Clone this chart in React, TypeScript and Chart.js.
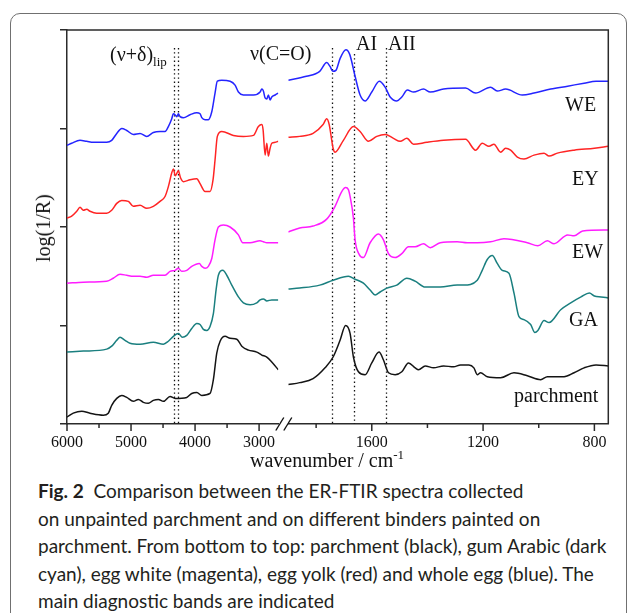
import React, { useEffect, useRef } from 'react';
import { Chart, registerables } from 'chart.js';

Chart.register(...registerables);

type Pt = [number, number];

// ---------- axes / ticks ----------
const LEFT_RANGE = [6000, 2700];
const RIGHT_RANGE = [1900, 750];
const LEFT_TICKS = [6000, 5500, 5000, 4500, 4000, 3500, 3000];
const LEFT_LABELLED = [6000, 5000, 4000, 3000];
const RIGHT_TICKS = [1800, 1600, 1400, 1200, 1000, 800];
const RIGHT_LABELLED = [1600, 1200, 800];
const Y_TICKS = [0, 1, 2, 3, 4];
const LIPID_BANDS = [4330, 4260];
const PROTEIN_BANDS = [1742, 1663, 1549];

// ---------- spectra: [wavenumber, log(1/R) offset] ----------
const weLeft: Pt[] = [[6000,2.83],[5927,2.85],[5797,2.88],[5692,2.87],[5589,2.86],[5380,2.86],[5302,2.88],[5223,2.95],[5145,3.00],[5067,2.98],[4964,2.94],[4859,2.95],[4755,2.92],[4652,2.96],[4547,2.97],[4469,2.97],[4417,3.02],[4364,3.10],[4339,3.15],[4312,3.14],[4286,3.12],[4261,3.15],[4234,3.12],[4183,3.11],[4078,3.14],[3973,3.16],[3922,3.15],[3895,3.11],[3844,3.09],[3792,3.09],[3739,3.17],[3688,3.36],[3652,3.48],[3583,3.49],[3453,3.48],[3375,3.44],[3323,3.37],[3245,3.34],[3089,3.34],[2984,3.37],[2958,3.40],[2933,3.38],[2906,3.31],[2880,3.30],[2855,3.34],[2828,3.29],[2802,3.32],[2750,3.34],[2700,3.36]];
const weRight: Pt[] = [[1900,3.49],[1835,3.53],[1787,3.58],[1762,3.67],[1750,3.63],[1740,3.58],[1729,3.59],[1714,3.71],[1693,3.80],[1679,3.75],[1660,3.53],[1642,3.34],[1624,3.28],[1600,3.37],[1573,3.48],[1552,3.42],[1534,3.32],[1510,3.28],[1492,3.32],[1472,3.39],[1450,3.37],[1414,3.40],[1390,3.37],[1342,3.40],[1263,3.41],[1227,3.36],[1173,3.42],[1149,3.38],[1119,3.40],[1059,3.34],[1017,3.36],[957,3.40],[896,3.43],[837,3.46],[794,3.48],[750,3.48]];

const eyLeft: Pt[] = [[6000,2.09],[5927,2.11],[5848,2.16],[5797,2.20],[5745,2.17],[5692,2.18],[5641,2.16],[5536,2.14],[5380,2.14],[5302,2.17],[5223,2.24],[5145,2.27],[5042,2.26],[4964,2.21],[4859,2.22],[4755,2.19],[4652,2.21],[4547,2.26],[4469,2.31],[4417,2.41],[4364,2.55],[4339,2.59],[4308,2.52],[4261,2.57],[4227,2.50],[4183,2.46],[4078,2.48],[3973,2.49],[3922,2.44],[3844,2.36],[3766,2.36],[3719,2.48],[3688,2.68],[3652,2.92],[3583,2.97],[3402,2.93],[3245,2.92],[3089,2.93],[3011,3.02],[2958,3.04],[2938,2.99],[2906,2.73],[2880,2.85],[2855,2.72],[2828,2.80],[2802,2.85],[2750,2.86],[2700,2.87]];
const eyRight: Pt[] = [[1900,2.91],[1859,2.92],[1811,2.95],[1775,3.04],[1762,3.10],[1753,3.04],[1739,2.80],[1732,2.76],[1702,2.88],[1666,3.02],[1642,2.97],[1612,2.87],[1582,2.92],[1552,2.94],[1522,2.90],[1498,2.87],[1474,2.90],[1450,2.84],[1402,2.86],[1342,2.88],[1263,2.89],[1227,2.78],[1203,2.85],[1179,2.82],[1161,2.84],[1137,2.76],[1119,2.80],[1101,2.78],[1077,2.71],[1053,2.69],[1017,2.73],[981,2.75],[963,2.72],[933,2.75],[873,2.78],[800,2.80],[750,2.82]];

const ewLeft: Pt[] = [[6000,1.43],[5745,1.44],[5380,1.45],[5277,1.48],[5172,1.52],[5067,1.51],[4964,1.50],[4859,1.50],[4755,1.49],[4652,1.51],[4469,1.51],[4391,1.55],[4312,1.56],[4261,1.58],[4208,1.55],[4130,1.56],[4052,1.60],[3933,1.63],[3895,1.60],[3844,1.58],[3792,1.60],[3739,1.68],[3688,1.87],[3636,2.00],[3558,2.02],[3453,2.00],[3323,1.92],[3255,1.84],[3141,1.84],[2984,1.86],[2933,1.85],[2880,1.84],[2700,1.84]];
const ewRight: Pt[] = [[1900,1.95],[1859,1.99],[1811,2.01],[1762,2.08],[1732,2.21],[1708,2.36],[1694,2.40],[1684,2.38],[1678,2.31],[1666,2.09],[1660,1.87],[1645,1.72],[1630,1.69],[1606,1.84],[1576,1.93],[1558,1.87],[1540,1.73],[1516,1.69],[1492,1.73],[1468,1.80],[1444,1.80],[1414,1.83],[1390,1.79],[1354,1.84],[1293,1.85],[1257,1.84],[1221,1.84],[1173,1.85],[1125,1.88],[1041,1.84],[1003,1.81],[969,1.86],[945,1.83],[896,1.92],[873,1.91],[842,1.96],[750,1.97]];

const gaLeft: Pt[] = [[6000,0.73],[5745,0.74],[5380,0.76],[5302,0.79],[5223,0.85],[5172,0.88],[5094,0.85],[5016,0.82],[4859,0.81],[4652,0.83],[4495,0.81],[4417,0.84],[4339,0.89],[4261,0.92],[4198,0.88],[4130,0.90],[4052,0.97],[3973,1.02],[3922,1.01],[3870,0.96],[3817,0.95],[3766,0.99],[3714,1.12],[3672,1.36],[3636,1.51],[3567,1.56],[3505,1.51],[3427,1.41],[3323,1.29],[3245,1.23],[3141,1.21],[3036,1.23],[2984,1.26],[2933,1.27],[2880,1.25],[2802,1.26],[2700,1.26]];
const gaRight: Pt[] = [[1900,1.37],[1859,1.38],[1787,1.41],[1739,1.46],[1684,1.50],[1660,1.47],[1630,1.43],[1606,1.36],[1588,1.31],[1570,1.34],[1546,1.38],[1510,1.41],[1474,1.48],[1444,1.45],[1408,1.39],[1354,1.39],[1293,1.41],[1270,1.41],[1221,1.46],[1203,1.56],[1185,1.67],[1167,1.71],[1149,1.63],[1131,1.56],[1107,1.53],[1089,1.33],[1071,1.09],[1053,1.06],[1029,1.01],[1014,0.93],[1003,0.95],[981,1.05],[963,1.03],[921,1.16],[885,1.23],[848,1.29],[818,1.33],[800,1.30],[776,1.29],[750,1.28]];

const parLeft: Pt[] = [[6000,0.07],[5902,0.11],[5770,0.13],[5641,0.11],[5433,0.09],[5355,0.11],[5302,0.19],[5223,0.26],[5145,0.29],[5067,0.27],[4964,0.23],[4886,0.25],[4808,0.22],[4730,0.21],[4652,0.24],[4573,0.25],[4495,0.23],[4391,0.28],[4312,0.26],[4130,0.27],[4052,0.31],[3973,0.32],[3895,0.29],[3766,0.31],[3714,0.45],[3661,0.72],[3609,0.84],[3531,0.89],[3453,0.87],[3348,0.86],[3270,0.79],[3167,0.75],[3036,0.73],[2958,0.70],[2880,0.68],[2802,0.63],[2700,0.55]];
const parRight: Pt[] = [[1900,0.40],[1859,0.42],[1811,0.46],[1768,0.57],[1739,0.68],[1714,0.85],[1694,1.00],[1678,0.92],[1666,0.68],[1648,0.53],[1624,0.50],[1600,0.62],[1574,0.73],[1558,0.65],[1540,0.52],[1516,0.50],[1492,0.53],[1468,0.62],[1444,0.57],[1432,0.55],[1408,0.59],[1378,0.57],[1342,0.59],[1306,0.58],[1281,0.60],[1251,0.60],[1233,0.57],[1221,0.50],[1209,0.52],[1185,0.48],[1137,0.47],[1089,0.52],[1041,0.49],[993,0.45],[969,0.48],[909,0.48],[873,0.52],[837,0.57],[794,0.60],[750,0.59]];

const SERIES = [
  { name: 'WE', color: '#2424ff', left: weLeft, right: weRight },
  { name: 'EY', color: '#ff2424', left: eyLeft, right: eyRight },
  { name: 'EW', color: '#ff1cff', left: ewLeft, right: ewRight },
  { name: 'GA', color: '#1a7f7f', left: gaLeft, right: gaRight },
  { name: 'parchment', color: '#141414', left: parLeft, right: parRight },
];

const SERIF = "'Liberation Serif', 'Times New Roman', serif";
const AXIS_COLOR = '#2b2b2b';

const decorPlugin = {
  id: 'decor',
  beforeDatasetsDraw(chart: any) {
    const { ctx, chartArea } = chart;
    const xL = chart.scales.xL;
    const xR = chart.scales.xR;
    ctx.save();
    ctx.strokeStyle = '#111';
    ctx.lineWidth = 1.3;
    ctx.setLineDash([1.4, 2.8]);
    const vline = (x: number, y0: number) => {
      const px = Math.round(x) + 0.5;
      ctx.beginPath();
      ctx.moveTo(px, y0);
      ctx.lineTo(px, chartArea.bottom);
      ctx.stroke();
    };
    LIPID_BANDS.forEach((w) => vline(xL.getPixelForValue(w), chartArea.top + 18));
    PROTEIN_BANDS.forEach((w, i) => vline(xR.getPixelForValue(w), chartArea.top + (i === 1 ? 24 : 18)));
    ctx.restore();
  },
  afterDraw(chart: any) {
    const { ctx, chartArea } = chart;
    const xL = chart.scales.xL;
    const xR = chart.scales.xR;
    ctx.save();
    ctx.strokeStyle = AXIS_COLOR;
    ctx.lineWidth = 1.5;
    // top and right frame
    ctx.beginPath();
    ctx.moveTo(chartArea.left, chartArea.top);
    ctx.lineTo(chartArea.right, chartArea.top);
    ctx.lineTo(chartArea.right, chartArea.bottom);
    ctx.stroke();
    // x tick marks (major longer than minor)
    const ticks = (scale: any, all: number[], major: number[]) => {
      all.forEach((v) => {
        const px = scale.getPixelForValue(v);
        const len = major.includes(v) ? 7 : 4;
        ctx.beginPath();
        ctx.moveTo(px, chartArea.bottom);
        ctx.lineTo(px, chartArea.bottom + len);
        ctx.stroke();
      });
    };
    ticks(xL, LEFT_TICKS, LEFT_LABELLED);
    ticks(xR, RIGHT_TICKS, RIGHT_LABELLED);
    // axis break marks
    ctx.strokeStyle = '#111';
    ctx.lineWidth = 1.4;
    const slash = (cx: number) => {
      ctx.beginPath();
      ctx.moveTo(cx - 4, chartArea.bottom + 6.5);
      ctx.lineTo(cx + 4, chartArea.bottom - 6.5);
      ctx.stroke();
    };
    slash(xL.right + 1.5);
    slash(xR.left - 0.5);
    ctx.restore();
  },
};

function SpectraChart() {
  const ref = useRef<HTMLCanvasElement | null>(null);
  useEffect(() => {
    if (!ref.current) return;
    const datasets: any[] = [];
    SERIES.forEach((s) => {
      datasets.push({
        label: s.name + ' (left)',
        xAxisID: 'xL',
        yAxisID: 'y',
        data: s.left.map(([x, y]) => ({ x, y })),
        borderColor: s.color,
        borderWidth: 1.5,
        pointRadius: 0,
        cubicInterpolationMode: 'monotone',
        fill: false,
      });
      datasets.push({
        label: s.name + ' (right)',
        xAxisID: 'xR',
        yAxisID: 'y',
        data: s.right.map(([x, y]) => ({ x, y })),
        borderColor: s.color,
        borderWidth: 1.5,
        pointRadius: 0,
        cubicInterpolationMode: 'monotone',
        fill: false,
      });
    });

    const tickFont = { family: SERIF, size: 16 };
    const chart = new Chart(ref.current, {
      type: 'line',
      data: { datasets },
      plugins: [decorPlugin],
      options: {
        responsive: false,
        animation: false,
        devicePixelRatio: 1,
        events: [],
        layout: { padding: { left: 0, top: 30, right: 20.7, bottom: 0 } },
        plugins: { legend: { display: false }, tooltip: { enabled: false } },
        scales: {
          xL: {
            type: 'linear',
            axis: 'x',
            position: 'bottom',
            stack: 'wn',
            stackWeight: 211.3,
            reverse: true,
            min: LEFT_RANGE[1],
            max: LEFT_RANGE[0],
            afterBuildTicks: (sc: any) => { sc.ticks = LEFT_TICKS.map((v) => ({ value: v })); },
            afterFit: (sc: any) => { sc.height = 46; },
            grid: { display: false, drawTicks: false },
            border: { display: true, color: AXIS_COLOR, width: 1.5 },
            ticks: {
              autoSkip: false,
              maxRotation: 0,
              padding: 9,
              color: '#111',
              font: tickFont,
              callback: (v: any) => (LEFT_LABELLED.includes(Number(v)) ? String(v) : ''),
            },
          },
          xGap: {
            type: 'linear',
            axis: 'x',
            position: 'bottom',
            stack: 'wn',
            stackWeight: 10,
            min: 0,
            max: 1,
            afterFit: (sc: any) => { sc.height = 46; },
            grid: { display: false, drawTicks: false },
            border: { display: false },
            ticks: { display: false },
          },
          xR: {
            type: 'linear',
            axis: 'x',
            position: 'bottom',
            stack: 'wn',
            stackWeight: 320,
            reverse: true,
            min: RIGHT_RANGE[1],
            max: RIGHT_RANGE[0],
            afterBuildTicks: (sc: any) => { sc.ticks = RIGHT_TICKS.map((v) => ({ value: v })); },
            afterFit: (sc: any) => { sc.height = 46; },
            grid: { display: false, drawTicks: false },
            border: { display: true, color: AXIS_COLOR, width: 1.5 },
            ticks: {
              autoSkip: false,
              maxRotation: 0,
              padding: 9,
              color: '#111',
              font: tickFont,
              callback: (v: any) => (RIGHT_LABELLED.includes(Number(v)) ? String(v) : ''),
            },
          },
          y: {
            type: 'linear',
            position: 'left',
            min: Y_TICKS[0],
            max: Y_TICKS[Y_TICKS.length - 1],
            afterBuildTicks: (sc: any) => { sc.ticks = Y_TICKS.map((v) => ({ value: v })); },
            afterFit: (sc: any) => { sc.width = 67; },
            grid: { drawOnChartArea: false, drawTicks: true, tickLength: 7, color: AXIS_COLOR, lineWidth: 1.5 },
            border: { display: true, color: AXIS_COLOR, width: 1.5 },
            ticks: { callback: () => '', padding: 0 },
          },
        },
      } as any,
    });
    return () => chart.destroy();
  }, []);
  return <canvas ref={ref} width={629} height={470} style={{ position: 'absolute', left: 0, top: 0, width: 629, height: 470 }} />;
}

const labelStyle = (left: number, baseline: number, size = 20): React.CSSProperties => ({
  position: 'absolute',
  left,
  top: baseline - 0.8375 * size,
  fontFamily: SERIF,
  fontSize: size,
  lineHeight: `${size}px`,
  color: '#111',
  whiteSpace: 'nowrap',
});

export default function App() {
  return (
    <div style={{ position: 'absolute', left: 0, top: 0, width: 629, height: 613, overflow: 'hidden', background: '#fff' }}>
      <div
        style={{
          position: 'absolute', left: 10, top: 13, width: 617, height: 650,
          boxSizing: 'border-box', border: '1.5px solid #707070', borderRadius: 10,
        }}
      />
      <SpectraChart />
      {/* axis titles */}
      <div
        style={{
          position: 'absolute', left: 42.5, top: 228, fontFamily: SERIF, fontSize: 20, lineHeight: '20px',
          color: '#111', whiteSpace: 'nowrap', transform: 'translate(-50%, -50%) rotate(-90deg)',
        }}
      >
        log(1/R)
      </div>
      <div style={labelStyle(250, 467)}>
        wavenumber / cm<span style={{ fontSize: 13, position: 'relative', top: -8 }}>-1</span>
      </div>
      {/* band annotations */}
      <div style={labelStyle(110, 61)}>
        (ν+δ)<span style={{ fontSize: 13, position: 'relative', top: 5 }}>lip</span>
      </div>
      <div style={labelStyle(250, 60)}>ν(C=O)</div>
      <div style={labelStyle(356, 50)}>AI</div>
      <div style={labelStyle(388, 50)}>AII</div>
      {/* series labels */}
      <div style={labelStyle(565, 111)}>WE</div>
      <div style={labelStyle(572, 185)}>EY</div>
      <div style={labelStyle(572, 258)}>EW</div>
      <div style={labelStyle(569, 326)}>GA</div>
      <div style={labelStyle(514, 401.5)}>parchment</div>
      {/* caption */}
      <div
        style={{
          position: 'absolute', left: 38, top: 477, fontFamily: "Lato, 'Noto Sans', sans-serif", fontSize: 19,
          lineHeight: '27.5px', color: '#231f20', whiteSpace: 'nowrap',
        }}
      >
        <b>Fig. 2</b>&nbsp;&nbsp;Comparison between the ER-FTIR spectra collected<br />
        on unpainted parchment and on different binders painted on<br />
        parchment. From bottom to top: parchment (black), gum Arabic (dark<br />
        cyan), egg white (magenta), egg yolk (red) and whole egg (blue). The<br />
        main diagnostic bands are indicated
      </div>
    </div>
  );
}
